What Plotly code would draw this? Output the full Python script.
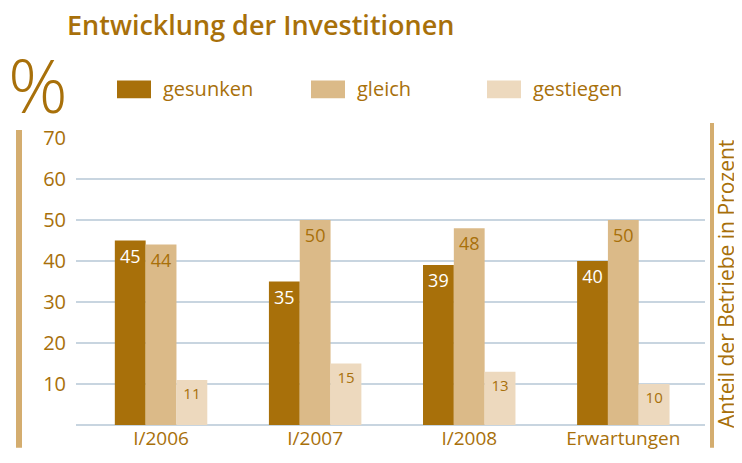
import plotly.graph_objects as go

categories = ["I/2006", "I/2007", "I/2008", "Erwartungen"]
gesunken = [45, 35, 39, 40]
gleich = [44, 50, 48, 50]
gestiegen = [11, 15, 13, 10]
series_names = ["gesunken", "gleich", "gestiegen"]
y_ticks = [10, 20, 30, 40, 50, 60, 70]

GOLD = "#A8700A"
C1 = "#A8700A"
C2 = "#DBBA88"
C3 = "#EDD9BE"
FONT = "Open Sans"

# page body has an 8px margin; the figure is sized to fit the window
OFF = 8
W, H = 742 - OFF, 463 - OFF
pl, pr, pt, pb = 76 - OFF, 705 - OFF, 138 - OFF, 427 - OFF

def px(x):
    return (x - OFF - pl) / (pr - pl)

def py(y):
    return (pb - (y - OFF)) / (pb - pt)

fig = go.Figure()
for name, vals, col, tcol, tsize in [
    ("gesunken", gesunken, C1, "white", 18),
    ("gleich", gleich, C2, GOLD, 18),
    ("gestiegen", gestiegen, C3, GOLD, 15),
]:
    fig.add_trace(go.Bar(
        x=categories, y=vals, name=name, marker=dict(color=col, line=dict(width=0)),
        text=[str(v) for v in vals], textposition="inside", insidetextanchor="end",
        textfont=dict(color=tcol, size=tsize, family=FONT), textangle=0,
        constraintext="none", showlegend=False,
    ))

fig.update_layout(
    width=W, height=H,
    margin=dict(l=pl, r=W - pr, t=pt, b=H - pb),
    paper_bgcolor="white", plot_bgcolor="white",
    barmode="group", bargap=0.4, bargroupgap=0,
    font=dict(family=FONT, color=GOLD),
    xaxis=dict(range=[-0.552, 3.53], showgrid=False, showline=False, ticks="",
               tickfont=dict(size=19, color=GOLD, family=FONT), zeroline=False),
    yaxis=dict(range=[0, 70], tickvals=y_ticks, showgrid=True, gridcolor="#C8D5E0",
               gridwidth=1.5, zeroline=True, zerolinecolor="#C8D5E0", zerolinewidth=1.5,
               showline=False, ticks="", ticklabelstandoff=9,
               tickfont=dict(size=20, color=GOLD, family=FONT)),
)

shapes = []
shapes.append(dict(type="rect", xref="paper", yref="paper", x0=px(16), x1=px(22),
                   y0=py(450), y1=py(130), fillcolor="#D4AD6F", line_width=0, layer="above"))
shapes.append(dict(type="rect", xref="paper", yref="paper", x0=px(710), x1=px(714),
                   y0=py(450), y1=py(123), fillcolor="#D4AD6F", line_width=0, layer="above"))

annotations = []
legend_cols = [C1, C2, C3]
legend_x = [117, 311, 487]
for name, col, lx in zip(series_names, legend_cols, legend_x):
    shapes.append(dict(type="rect", xref="paper", yref="paper", x0=px(lx), x1=px(lx + 34),
                       y0=py(98), y1=py(80), fillcolor=col, line_width=0))
    annotations.append(dict(xref="paper", yref="paper", x=px(lx + 44), y=py(88),
                            text=name, showarrow=False, xanchor="left", yanchor="middle",
                            font=dict(size=20, color=GOLD, family=FONT)))

annotations.append(dict(xref="paper", yref="paper", x=px(65), y=py(24), text="Entwicklung der Investitionen",
                        showarrow=False, xanchor="left", yanchor="middle",
                        font=dict(size=27, color=GOLD, family=FONT, weight=600)))
annotations.append(dict(xref="paper", yref="paper", x=px(38), y=py(84), text="%",
                        showarrow=False, xanchor="center", yanchor="middle", height=70,
                        font=dict(size=74, color=GOLD, family=FONT, weight=300)))
annotations.append(dict(xref="paper", yref="paper", x=px(726), y=py(285),
                        text="Anteil der Betriebe in Prozent", textangle=-90,
                        showarrow=False, xanchor="center", yanchor="middle",
                        font=dict(size=21, color=GOLD, family=FONT)))

fig.update_layout(shapes=shapes, annotations=annotations)
fig.write_html("out.html")
